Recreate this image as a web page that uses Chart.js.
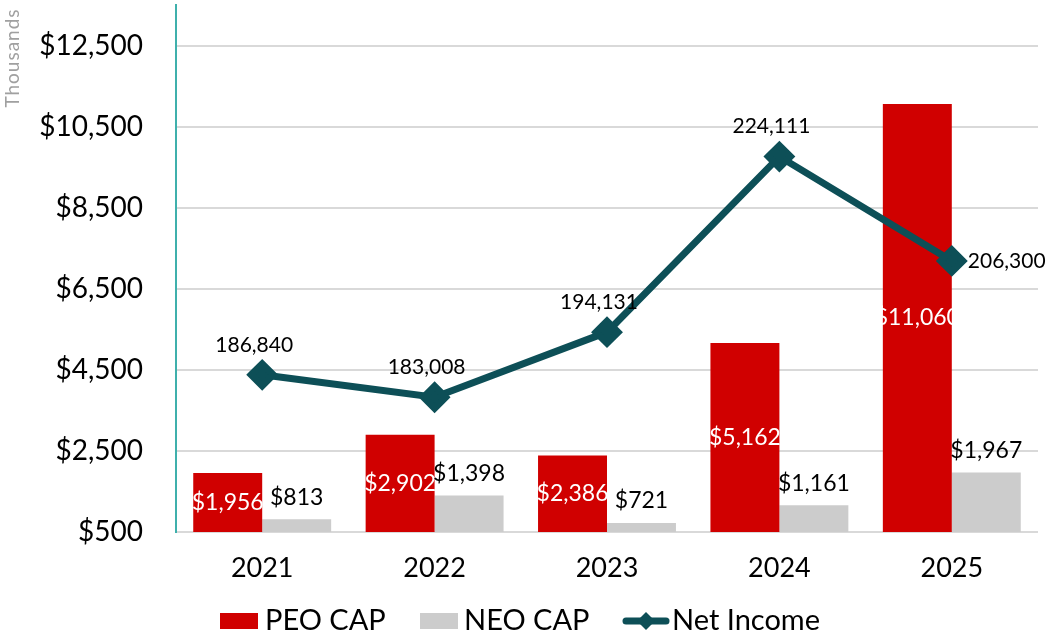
<!DOCTYPE html>
<html>
<head>
<meta charset="utf-8">
<script src="https://cdn.jsdelivr.net/npm/chart.js@4.4.0/dist/chart.umd.min.js"></script>
<style>
  html, body { margin: 0; padding: 0; background: #fff; }
  #wrap { width: 1051px; height: 634px; }
</style>
</head>
<body>
<div id="wrap"><canvas id="capChart" width="1051" height="634"></canvas></div>
<script>
// chart values
var years = ['2021', '2022', '2023', '2024', '2025'];
var peoCap = [1956, 2902, 2386, 5162, 11060];
var neoCap = [813, 1398, 721, 1161, 1967];
var netIncome = [186840, 183008, 194131, 224111, 206300];
var capTicks = [500, 2500, 4500, 6500, 8500, 10500, 12500];

var RED = '#d00000';
var GRAY = '#cccccc';
var TEAL = '#0d4f57';
var FONT = 'Lato, "Open Sans", sans-serif';

function money(v) {
  return '$' + v.toLocaleString('en-US');
}

// value labels, legend and the "Thousands" caption
var labelPlugin = {
  id: 'labelPlugin',
  afterDatasetsDraw: function (chart) {
    var ctx = chart.ctx;
    var yScale = chart.scales.y;
    ctx.save();
    ctx.textAlign = 'center';
    ctx.textBaseline = 'middle';

    // PEO labels inside bars (dataset 1)
    chart.getDatasetMeta(1).data.forEach(function (bar, i) {
      ctx.font = '23px ' + FONT;
      ctx.fillStyle = '#ffffff';
      ctx.fillText(money(peoCap[i]), bar.x, (bar.y + yScale.bottom) / 2);
    });

    // NEO labels above bars (dataset 2)
    chart.getDatasetMeta(2).data.forEach(function (bar, i) {
      ctx.font = '23px ' + FONT;
      ctx.fillStyle = '#000000';
      ctx.fillText(money(neoCap[i]), bar.x, bar.y - 22);
    });

    // net income labels (dataset 0)
    chart.getDatasetMeta(0).data.forEach(function (pt, i) {
      ctx.font = '21px ' + FONT;
      ctx.fillStyle = '#000000';
      var txt = netIncome[i].toLocaleString('en-US');
      if (i === netIncome.length - 1) {
        ctx.textAlign = 'left';
        ctx.fillText(txt, pt.x + 16, pt.y);
        ctx.textAlign = 'center';
      } else {
        ctx.fillText(txt, pt.x - 8, pt.y - 30);
      }
    });
    ctx.restore();
  },
  afterDraw: function (chart) {
    var ctx = chart.ctx;
    ctx.save();

    // Thousands caption
    ctx.translate(13, 58);
    ctx.rotate(-Math.PI / 2);
    ctx.font = '19px ' + FONT;
    ctx.letterSpacing = '1px';
    ctx.fillStyle = '#a0a0a0';
    ctx.textAlign = 'center';
    ctx.textBaseline = 'middle';
    ctx.fillText('Thousands', 0, 0);
    ctx.setTransform(1, 0, 0, 1, 0, 0);
    ctx.letterSpacing = '0px';

    // legend
    var ly = 621;
    ctx.font = '29px ' + FONT;
    ctx.textBaseline = 'middle';
    ctx.textAlign = 'left';
    ctx.fillStyle = RED;
    ctx.fillRect(220, ly - 8, 38, 16);
    ctx.fillStyle = '#000';
    ctx.fillText('PEO CAP', 265, ly);

    ctx.fillStyle = GRAY;
    ctx.fillRect(420, ly - 8, 38, 16);
    ctx.fillStyle = '#000';
    ctx.fillText('NEO CAP', 464, ly);

    ctx.strokeStyle = TEAL;
    ctx.lineWidth = 7;
    ctx.lineCap = 'round';
    ctx.beginPath();
    ctx.moveTo(626, ly);
    ctx.lineTo(666, ly);
    ctx.stroke();
    ctx.fillStyle = TEAL;
    ctx.beginPath();
    ctx.moveTo(646, ly - 9);
    ctx.lineTo(655, ly);
    ctx.lineTo(646, ly + 9);
    ctx.lineTo(637, ly);
    ctx.closePath();
    ctx.fill();
    ctx.fillStyle = '#000';
    ctx.fillText('Net Income', 672, ly);
    ctx.restore();
  }
};

var ctx = document.getElementById('capChart').getContext('2d');
var capChart = new Chart(ctx, {
  data: {
    labels: years,
    datasets: [
      {
        type: 'line',
        label: 'Net Income',
        data: netIncome,
        yAxisID: 'y2',
        borderColor: TEAL,
        backgroundColor: TEAL,
        borderWidth: 7,
        pointStyle: 'rectRot',
        pointRadius: 11,
        pointHoverRadius: 11,
        tension: 0,
        order: 0
      },
      {
        type: 'bar',
        label: 'PEO CAP',
        data: peoCap,
        backgroundColor: RED,
        categoryPercentage: 0.8,
        barPercentage: 1.0,
        order: 1
      },
      {
        type: 'bar',
        label: 'NEO CAP',
        data: neoCap,
        backgroundColor: GRAY,
        categoryPercentage: 0.8,
        barPercentage: 1.0,
        order: 1
      }
    ]
  },
  options: {
    responsive: false,
    animation: false,
    layout: { autoPadding: false, padding: { top: 5, right: 13, bottom: 0, left: 0 } },
    plugins: {
      legend: { display: false },
      tooltip: { enabled: false }
    },
    scales: {
      x: {
        grid: { display: false },
        border: { display: false },
        ticks: { color: '#000', font: { size: 27, family: FONT }, padding: 12 },
        afterFit: function (scale) { scale.height = 102; }
      },
      y: {
        min: 500,
        max: 13500,
        afterBuildTicks: function (scale) {
          scale.ticks = capTicks.map(function (v) { return { value: v }; });
        },
        grid: { color: '#d9d9d9', lineWidth: 2, drawTicks: false },
        border: { display: true, color: '#3fb0ac', width: 2 },
        ticks: {
          color: '#000',
          font: { size: 28, family: FONT },
          padding: 33,
          callback: function (v) { return money(v); }
        },
        afterFit: function (scale) {
          scale.width = 176;
          scale.paddingTop = 0;
          scale.paddingBottom = 0;
        }
      },
      y2: {
        display: false,
        min: 160000,
        max: 250000
      }
    }
  },
  plugins: [labelPlugin]
});
</script>
</body>
</html>
